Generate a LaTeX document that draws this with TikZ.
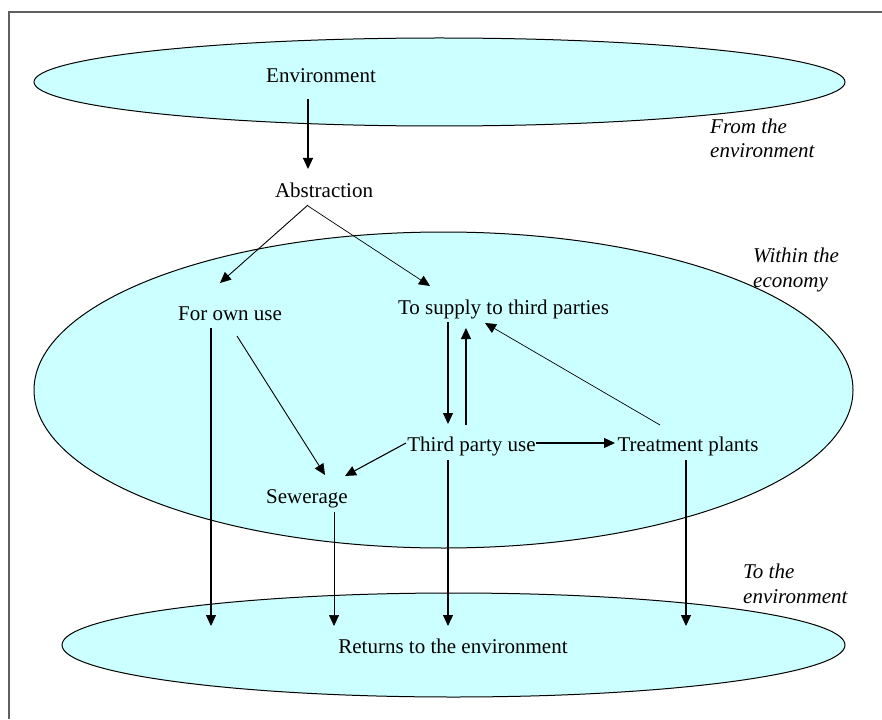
\documentclass[tikz,border=0pt]{standalone}
\usepackage{fontspec}
\setmainfont{Liberation Serif}
\usetikzlibrary{shapes.geometric,arrows.meta}
\definecolor{water}{RGB}{204,255,255}
\definecolor{framegray}{RGB}{96,96,96}
\tikzset{
  zone/.style={ellipse,draw=black,line width=1pt,fill=water,inner sep=0pt},
  lbl/.style={inner sep=0pt,anchor=base,font=\fontsize{21}{24.5}\selectfont},
  side/.style={inner sep=0pt,anchor=base west,align=left,
    font=\fontsize{21}{24.5}\selectfont\itshape},
  flow/.style={-{Triangle[width=10pt,length=11pt]},line width=1.1pt},
  thinflow/.style={flow,line width=0.7pt},
  midflow/.style={flow,line width=0.9pt}
}
\begin{document}
\begin{tikzpicture}[x=1pt,y=-1pt]
\useasboundingbox (0,0) rectangle (882,719);
% frame (open to the right and bottom)
\draw[framegray,line width=2pt] (9,719) -- (9,11.7) -- (882,11.7);

% the three zones
\node[zone,minimum width=811pt,minimum height=88pt]  (topzone) at (439.5,82)  {};
\node[zone,minimum width=819pt,minimum height=316pt] (midzone) at (443.5,390) {};
\node[zone,minimum width=783pt,minimum height=104pt] (lowzone) at (453.5,645) {};

% labels
\node[lbl] (env)    at (321,83)    {Environment};
\node[lbl] (abs)    at (324,197)   {Abstraction};
\node[lbl] (own)    at (230,320)   {For own use};
\node[lbl] (supply) at (503.5,314) {To supply to third parties};
\node[lbl] (third)  at (471.5,451) {Third party use};
\node[lbl] (treat)  at (688,451)   {Treatment plants};
\node[lbl] (sew)    at (307,503)   {Sewerage};
\node[lbl] (ret)    at (453,653)   {Returns to the environment};

% side notes: the base anchor sits on the last line
\node[side] (fromenv) at (710,158) {From the\\environment};
\node[side] (within)  at (753,287) {Within the\\economy};
\node[side] (toenv)   at (743,603) {To the\\environment};

% flows
\draw[flow]     ([shift={(-13,16)}]env.base)    -- ([shift={(-16,-28)}]abs.base);
\draw[midflow]  ([shift={(-16,8)}]abs.base)     -- ([shift={(-10,-37)}]own.base);
\draw[thinflow] ([shift={(-16,9)}]abs.base)     -- ([shift={(-73.5,-28)}]supply.base);
\draw[flow]     ([shift={(-19,8)}]own.base)     -- ([shift={(-242,-27)}]ret.base);
\draw[midflow]  ([shift={(7,16)}]own.base)      -- ([shift={(18,-28)}]sew.base);
\draw[flow]     ([shift={(-55.5,8)}]supply.base) -- ([shift={(-23.5,-27)}]third.base);
\draw[flow]     ([shift={(-5.5,-26)}]third.base) -- ([shift={(-37.5,14)}]supply.base);
\draw[thinflow] ([shift={(-28,-26)}]treat.base) -- ([shift={(-18.5,9)}]supply.base);
\draw[flow]     ([shift={(64.5,-8)}]third.base) -- ([shift={(-73,-8)}]treat.base);
\draw[flow]     ([shift={(-65.5,-8)}]third.base) -- ([shift={(38,-27)}]sew.base);
\draw[thinflow] ([shift={(27,9)}]sew.base)      -- ([shift={(-119,-27)}]ret.base);
\draw[flow]     ([shift={(-23.5,9)}]third.base) -- ([shift={(-5,-27)}]ret.base);
\draw[flow]     ([shift={(-2,9)}]treat.base)    -- ([shift={(233,-27)}]ret.base);
\end{tikzpicture}
\end{document}
